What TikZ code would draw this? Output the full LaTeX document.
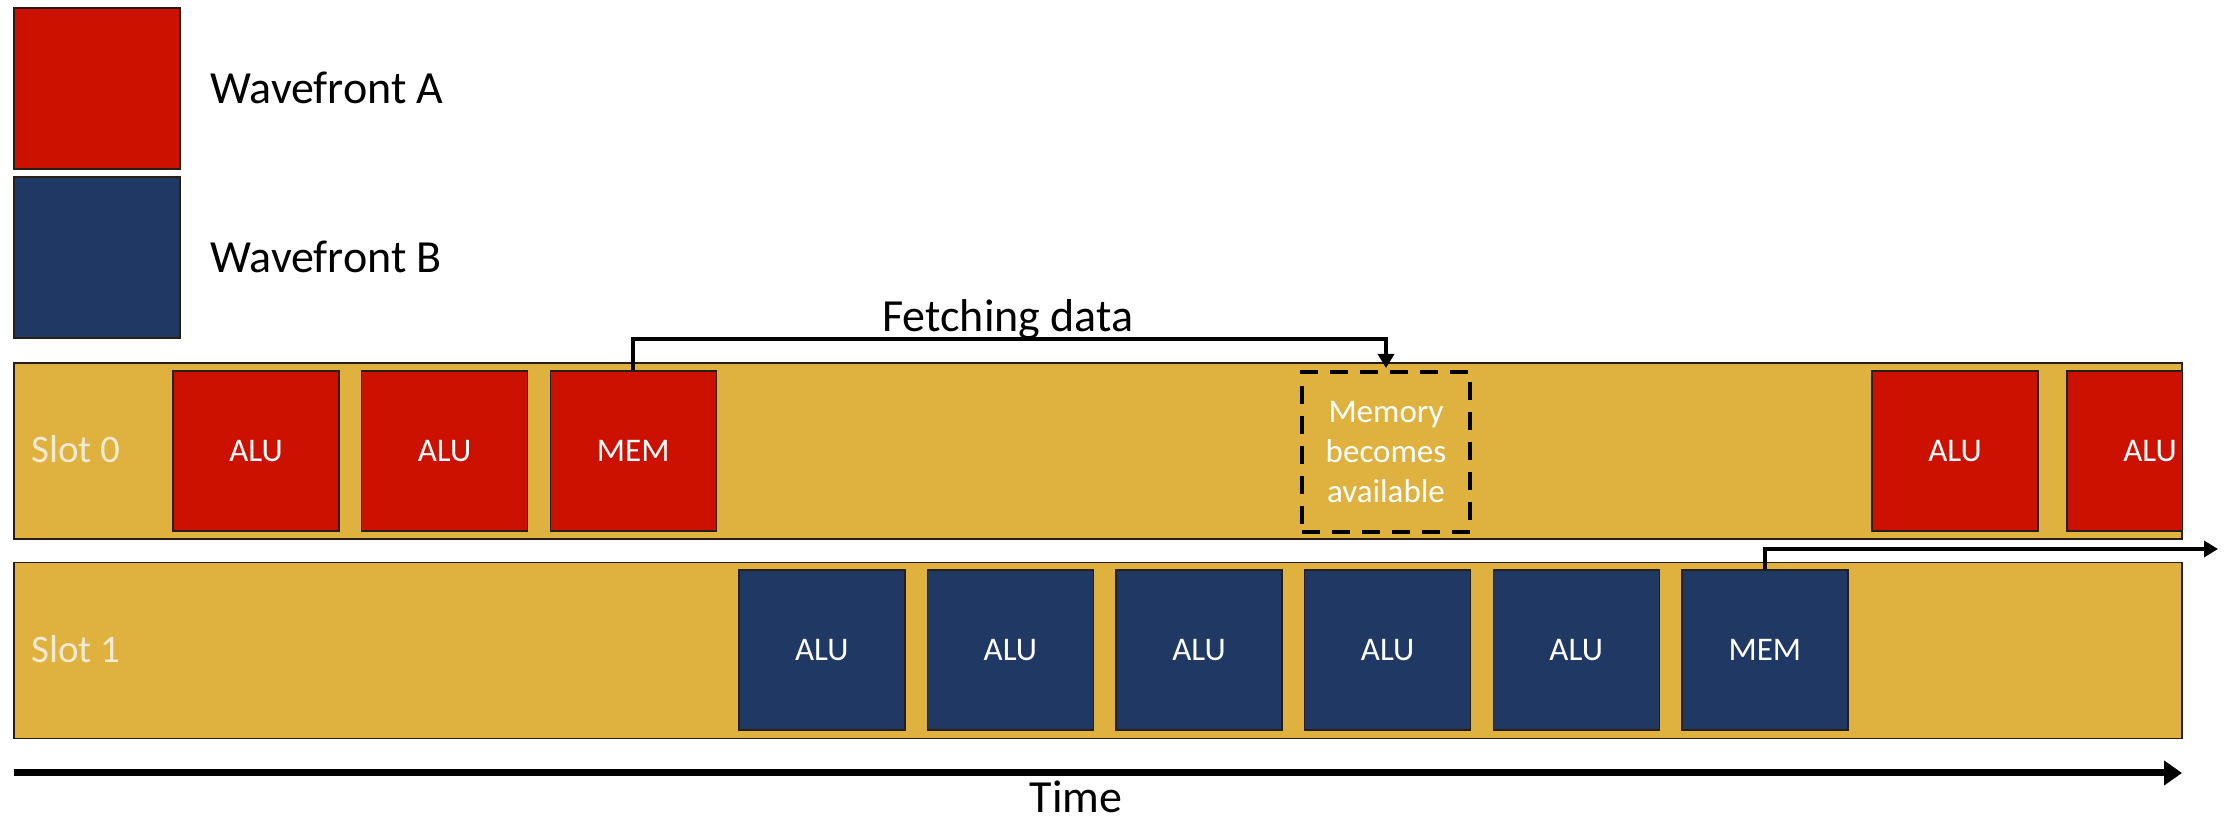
\documentclass[tikz,border=0pt]{standalone}
\usepackage{fontspec}
\setmainfont{Carlito}
\usetikzlibrary{arrows.meta}
\definecolor{wfA}{RGB}{204,17,0}
\definecolor{wfB}{RGB}{31,56,100}
\definecolor{slotgold}{RGB}{223,178,64}
\definecolor{edge}{RGB}{40,30,20}
\definecolor{cream}{RGB}{245,234,210}

\begin{document}
\begin{tikzpicture}[x=0.5pt,y=-0.5pt,
  slotbar/.style={draw=edge, line width=0.7pt, fill=slotgold,
    minimum width=1084pt, minimum height=88pt, inner sep=0pt},
  opbox/.style={draw=edge, line width=0.7pt, minimum width=83pt,
    minimum height=80pt, inner sep=0pt, text=white,
    font=\fontsize{16.5}{19}\selectfont},
  opA/.style={opbox, fill=wfA},
  opB/.style={opbox, fill=wfB},
  legendbox/.style={draw=edge, line width=0.7pt, minimum width=83pt,
    minimum height=80.5pt, inner sep=0pt},
  slotlabel/.style={anchor=base west, text=cream, inner sep=0pt,
    font=\fontsize{19.5}{23}\selectfont},
  biglabel/.style={inner sep=0pt, font=\fontsize{23}{27}\selectfont},
  conn/.style={line width=2pt, -{Triangle[length=7pt,width=8pt]}},
]
\useasboundingbox (0,0) rectangle (2224,822);

% legend
\node[legendbox, fill=wfA] (legA) at (97,88.5) {};
\node[legendbox, fill=wfB] (legB) at (97,257.5) {};
\node[biglabel, anchor=base west] (legAtxt) at (210,104) {Wavefront A};
\node[biglabel, anchor=base west] (legBtxt) at (210,273) {Wavefront B};

% issue slots
\node[slotbar] (slot0) at (1098,451) {};
\node[slotbar] (slot1) at (1098,650.5) {};
\node[slotlabel] (s0txt) at (31,463) {Slot 0};
\node[slotlabel] (s1txt) at (31,663) {Slot 1};

% wavefront A instructions
\node[opA] (aluA1) at (256,451) {ALU};
\node[opA] (aluA2) at (444.6,451) {ALU};
\node[opA] (memA) at (633.2,451) {MEM};
\node[opA] (aluA3) at (1955,451) {ALU};
\begin{scope}
  \clip (14,363) rectangle (2182,539);
  \node[opA] (aluA4) at (2150,451) {ALU};
\end{scope}
\draw[edge, line width=0.7pt] (slot0.north west) rectangle (slot0.south east);

% wavefront B instructions
\node[opB] (aluB1) at (821.8,650) {ALU};
\node[opB] (aluB2) at (1010.4,650) {ALU};
\node[opB] (aluB3) at (1199,650) {ALU};
\node[opB] (aluB4) at (1387.6,650) {ALU};
\node[opB] (aluB5) at (1576.2,650) {ALU};
\node[opB] (memB) at (1764.8,650) {MEM};

% memory ready marker
\node[draw=black, line width=2pt, dash pattern=on 9pt off 6pt,
  minimum width=84pt, minimum height=80pt, inner sep=0pt,
  text=white, align=center, font=\fontsize{16.5}{20}\selectfont]
  (avail) at (1386,452) {Memory\\becomes\\available};

% fetch connectors
\draw[conn] (memA.north) -- ++(0,-31) -| ([yshift=1pt]avail.north);
\node[biglabel, anchor=base] (fetch) at (1008,332) {Fetching data};
\coordinate (memBout) at (2218,549);
\draw[conn] (memB.north) |- (memBout);

% time axis
\coordinate (t0) at (14,773);
\coordinate (t1) at (2182,773);
\draw[line width=3.5pt, -{Triangle[length=9pt,width=12pt]}] (t0) -- (t1);
\node[biglabel, anchor=base] (time) at (1076,813) {Time};
\end{tikzpicture}
\end{document}
